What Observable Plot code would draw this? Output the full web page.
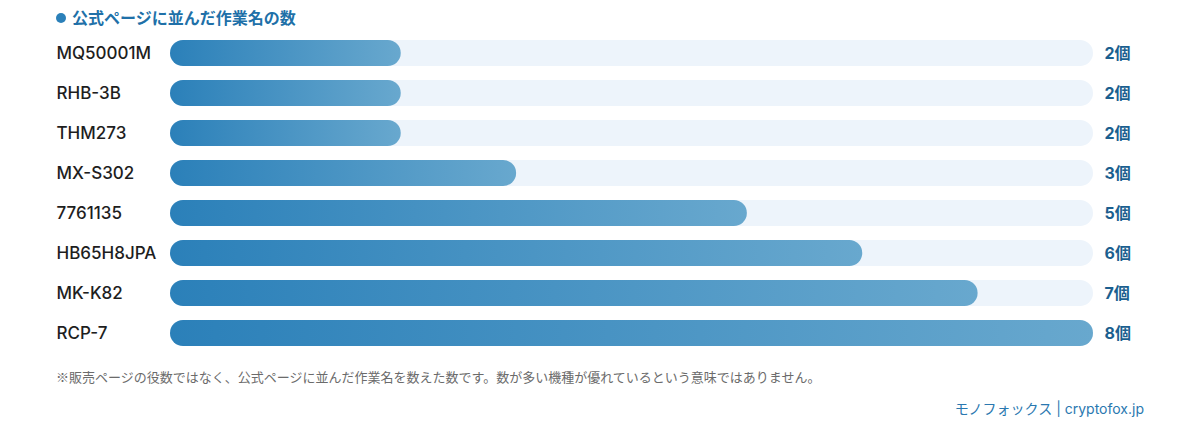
<!DOCTYPE html>
<html><head><meta charset="utf-8">
<script src="https://cdn.jsdelivr.net/npm/d3@7"></script>
<script src="https://cdn.jsdelivr.net/npm/@observablehq/plot@0.6"></script>
<style>
body{margin:0;background:#fff;font-family:Inter,"Noto Sans CJK JP",sans-serif;width:1200px;}
#title{height:33px;box-sizing:border-box;padding:9px 0 0 56px;font-size:16px;font-weight:700;color:#2070a8;line-height:18px;}
#title .dot{display:inline-block;width:10px;height:10px;border-radius:50%;background:#2b80b9;margin-right:6px;vertical-align:1px;}
#note{padding-left:56px;font-family:"Noto Sans CJK JP",sans-serif;font-size:13px;color:#6b6b6b;line-height:20px;margin-top:4px;}
#credit{text-align:right;padding-right:56px;font-size:14px;color:#2a78b0;line-height:20px;margin-top:12px;}
</style></head>
<body>
<div id="title"><span class="dot"></span>公式ページに並んだ作業名の数</div>
<div id="chart"></div>
<div id="note">※販売ページの役数ではなく、公式ページに並んだ作業名を数えた数です。数が多い機種が優れているという意味ではありません。</div>
<div id="credit">モノフォックス | cryptofox.jp</div>
<script>
const models = ["MQ50001M","RHB-3B","THM273","MX-S302","7761135","HB65H8JPA","MK-K82","RCP-7"];
const counts = [2,2,2,3,5,6,7,8];
const maxCount = 8;
const unit = "個";

const data = models.map((m,i)=>({model:m, count:counts[i], label:counts[i]+unit}));

const plot = Plot.plot({
  width:1200, height:330,
  marginLeft:170, marginRight:107, marginTop:0, marginBottom:10,
  style:{fontFamily:'Inter,"Noto Sans CJK JP",sans-serif', background:"transparent"},
  x:{domain:[0,maxCount], axis:null},
  y:{domain:models, padding:0, label:null},
  marks:[
    Plot.axisY({tickSize:0, tickPadding:114, textAnchor:"start", fontSize:17, fontWeight:500, color:"#1e1e1e", label:null}),
    Plot.barX(data,{y:"model", x1:0, x2:maxCount, fill:"#edf4fb", rx:13, insetTop:7, insetBottom:7}),
    Plot.barX(data,{y:"model", x1:0, x2:"count", fill:"url(#barGrad)", rx:13, insetTop:7, insetBottom:7}),
    Plot.text(data,{y:"model", x:maxCount, text:"label", dx:11, textAnchor:"start", fontSize:16, fontWeight:700, fill:"#1b5f8f"})
  ]
});
d3.select(plot).insert("defs",":first-child").html(
  '<linearGradient id="barGrad" x1="0" x2="1" y1="0" y2="0"><stop offset="0" stop-color="#2b80b9"/><stop offset="1" stop-color="#68a8ce"/></linearGradient>');
document.getElementById("chart").append(plot);
</script>
</body></html>
